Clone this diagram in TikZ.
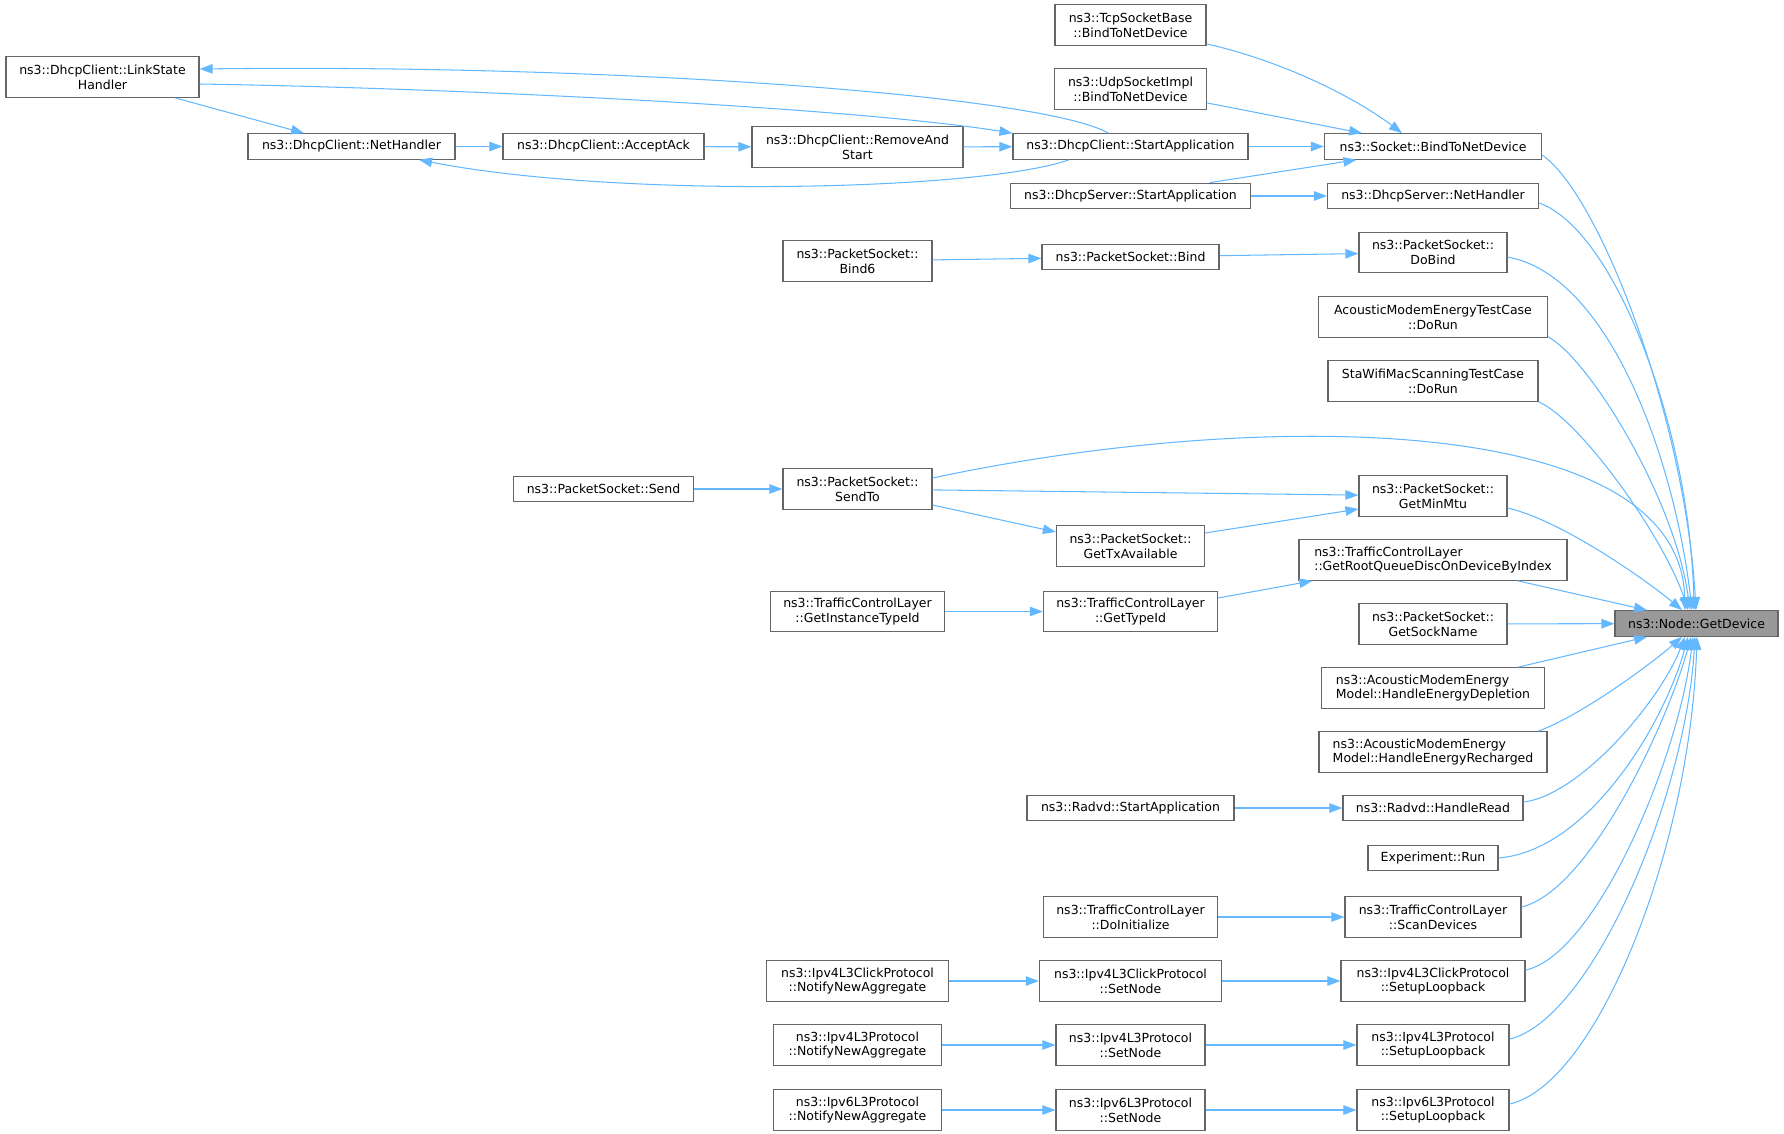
\documentclass[tikz,border=0pt]{standalone}
\usepackage{fontspec}
\setmainfont{DejaVu Sans}
\usetikzlibrary{arrows.meta}
\definecolor{edgeblue}{HTML}{63B8FF}
\definecolor{boxgray}{HTML}{666666}
\definecolor{curfill}{HTML}{999999}
\begin{document}
\begin{tikzpicture}[x=1pt,y=-1pt,
  fn/.style={draw=boxgray,line width=1.2pt,fill=white,align=center,
    inner xsep=2pt,inner ysep=0pt,minimum height=25.5pt,
    font=\fontsize{12.5}{14.7}\selectfont},
  fn2/.style={fn,minimum height=40.5pt},
  fncur/.style={fn,fill=curfill},
  call/.style={draw=edgeblue,line width=1.05pt,-{Triangle[length=13pt,width=9.5pt]}}]
\useasboundingbox (0,0) rectangle (1784,1133);
% the function itself
\node[fncur,minimum width=163pt] (gd) at (1696.5,623.5) {ns3::Node::GetDevice};
% direct callers
\node[fn,minimum width=217pt] (bindnd) at (1433,146.5) {ns3::Socket::BindToNetDevice};
\node[fn,minimum width=211pt] (dsnh) at (1433,196) {ns3::DhcpServer::NetHandler};
\node[fn2,minimum width=148pt] (dobind) at (1433,252.5) {ns3::PacketSocket::\\DoBind};
\node[fn2,minimum width=229pt] (amdorun) at (1433,317) {AcousticModemEnergyTestCase\\::DoRun};
\node[fn2,minimum width=210pt] (swdorun) at (1433,381) {StaWifiMacScanningTestCase\\::DoRun};
\node[fn2,minimum width=148pt] (minmtu) at (1433,496) {ns3::PacketSocket::\\GetMinMtu};
\node[fn2,align=left,minimum width=268pt] (getroot) at (1433,560) {ns3::TrafficControlLayer\\::GetRootQueueDiscOnDeviceByIndex};
\node[fn2,minimum width=148pt] (sockname) at (1433,624) {ns3::PacketSocket::\\GetSockName};
\node[fn2,align=left,minimum width=223pt] (depletion) at (1433,688) {ns3::AcousticModemEnergy\\Model::HandleEnergyDepletion};
\node[fn2,align=left,minimum width=228pt] (recharged) at (1433,752) {ns3::AcousticModemEnergy\\Model::HandleEnergyRecharged};
\node[fn,minimum width=180pt] (handleread) at (1433,808) {ns3::Radvd::HandleRead};
\node[fn,minimum width=130pt] (exprun) at (1433,858) {Experiment::Run};
\node[fn2,minimum width=176pt] (scandev) at (1433,917) {ns3::TrafficControlLayer\\::ScanDevices};
\node[fn2,minimum width=184pt] (clickloop) at (1433,981) {ns3::Ipv4L3ClickProtocol\\::SetupLoopback};
\node[fn2,minimum width=152pt] (ipv4loop) at (1433,1045) {ns3::Ipv4L3Protocol\\::SetupLoopback};
\node[fn2,minimum width=152pt] (ipv6loop) at (1433,1110) {ns3::Ipv6L3Protocol\\::SetupLoopback};
% second level
\node[fn2,minimum width=151pt] (tcpbind) at (1130.5,25) {ns3::TcpSocketBase\\::BindToNetDevice};
\node[fn2,minimum width=152.5pt] (udpbind) at (1130.5,89) {ns3::UdpSocketImpl\\::BindToNetDevice};
\node[fn,minimum width=235pt] (dcstart) at (1130.5,146.5) {ns3::DhcpClient::StartApplication};
\node[fn,minimum width=240pt] (dsstart) at (1130.5,196) {ns3::DhcpServer::StartApplication};
\node[fn,minimum width=177pt] (psbind) at (1130.5,257) {ns3::PacketSocket::Bind};
\node[fn2,minimum width=148pt] (txavail) at (1130.5,546) {ns3::PacketSocket::\\GetTxAvailable};
\node[fn2,minimum width=174pt] (gettypeid) at (1130.5,611.5) {ns3::TrafficControlLayer\\::GetTypeId};
\node[fn,minimum width=207pt] (radvdstart) at (1130.5,808) {ns3::Radvd::StartApplication};
\node[fn2,minimum width=174pt] (doinit) at (1130.5,917) {ns3::TrafficControlLayer\\::DoInitialize};
\node[fn2,minimum width=182pt] (clicksetnode) at (1130.5,981) {ns3::Ipv4L3ClickProtocol\\::SetNode};
\node[fn2,minimum width=149pt] (ipv4setnode) at (1130.5,1045) {ns3::Ipv4L3Protocol\\::SetNode};
\node[fn2,minimum width=149pt] (ipv6setnode) at (1130.5,1110) {ns3::Ipv6L3Protocol\\::SetNode};
% third level and beyond
\node[fn2,minimum width=211pt] (removestart) at (857.5,147) {ns3::DhcpClient::RemoveAnd\\Start};
\node[fn2,minimum width=149pt] (bind6) at (857.5,261) {ns3::PacketSocket::\\Bind6};
\node[fn2,minimum width=149pt] (sendto) at (857.5,489) {ns3::PacketSocket::\\SendTo};
\node[fn2,minimum width=174pt] (instid) at (857.5,611.5) {ns3::TrafficControlLayer\\::GetInstanceTypeId};
\node[fn2,minimum width=182pt] (clicknotify) at (857.5,981) {ns3::Ipv4L3ClickProtocol\\::NotifyNewAggregate};
\node[fn2,minimum width=168pt] (ipv4notify) at (857.5,1045) {ns3::Ipv4L3Protocol\\::NotifyNewAggregate};
\node[fn2,minimum width=168pt] (ipv6notify) at (857.5,1110) {ns3::Ipv6L3Protocol\\::NotifyNewAggregate};
\node[fn,minimum width=201pt] (acceptack) at (603.5,146.5) {ns3::DhcpClient::AcceptAck};
\node[fn,minimum width=180pt] (pssend) at (603.5,489) {ns3::PacketSocket::Send};
\node[fn,minimum width=207pt] (nethandler) at (351.5,146.5) {ns3::DhcpClient::NetHandler};
\node[fn2,minimum width=193pt] (linkstate) at (102.5,77) {ns3::DhcpClient::LinkState\\Handler};
% straight calls
\foreach \a/\b in {nethandler/acceptack,acceptack/removestart,removestart/dcstart,
  dcstart/bindnd,dsstart/dsnh,bind6/psbind,psbind/dobind,pssend/sendto,sendto/minmtu,
  instid/gettypeid,radvdstart/handleread,doinit/scandev,clicknotify/clicksetnode,
  clicksetnode/clickloop,ipv4notify/ipv4setnode,ipv4setnode/ipv4loop,
  ipv6notify/ipv6setnode,ipv6setnode/ipv6loop,sockname/gd}
  \draw[call] (\a) -- (\b);
% the dhcp client loops
\draw[call] ([xshift=72.5pt]linkstate.south) -- ([xshift=-47.5pt]nethandler.north);
\draw[call] ([yshift=-7pt]linkstate.east) .. controls +(251,4) and +(-163,-26) .. (dcstart.north west);
\draw[call] ([xshift=-22pt]dcstart.north) .. controls +(-68.5,-39) and +(401,-5) .. ([yshift=8pt]linkstate.east);
\draw[call] ([xshift=-61.5pt]dcstart.south) .. controls +(-89,31) and +(201,39) .. ([xshift=67.5pt]nethandler.south);
% into BindToNetDevice
\draw[call] ([yshift=2pt]tcpbind.south east) .. controls +(83,19) and +(-42,-32) .. ([xshift=-31pt]bindnd.north);
\draw[call] ([yshift=-14pt]udpbind.east) -- ([xshift=-71pt]bindnd.north);
\draw[call] ([xshift=-41.5pt]dsstart.north east) -- ([xshift=32.5pt]bindnd.south west);
% packet socket
\draw[call] ([yshift=-16pt]sendto.east) -- ([yshift=14pt]txavail.west);
\draw[call] ([yshift=13pt]txavail.east) -- ([yshift=-13pt]minmtu.west);
\draw[call] ([yshift=13.5pt]gettypeid.east) -- ([xshift=14pt]getroot.south west);
% into GetDevice from above
\draw[call] ([yshift=-8.5pt]bindnd.east) .. controls +(58,40) and +(-11,-191) .. ([xshift=-0.5pt]gd.north);
\draw[call] ([yshift=-7pt]dsnh.east) .. controls +(76,27) and +(-4,-181) .. ([xshift=-2.5pt]gd.north);
\draw[call] ([yshift=-4.5pt]dobind.east) .. controls +(100,18) and +(-18,-155) .. ([xshift=-4.5pt]gd.north);
\draw[call] ([yshift=1pt]amdorun.south east) .. controls +(42,23) and +(-15,-111) .. ([xshift=-6.5pt]gd.north);
\draw[call] (swdorun.south east) .. controls +(42,18) and +(-23,-71) .. ([xshift=-8.5pt]gd.north);
\draw[call] ([yshift=11pt]sendto.east) .. controls +(318,-68) and +(-5,-201) .. ([xshift=-11.5pt]gd.north);
\draw[call] ([yshift=-12pt]minmtu.east) .. controls +(53,12) and +(-37,-31) .. ([xshift=-14.5pt]gd.north);
\draw[call] ([xshift=85pt]getroot.south) -- ([xshift=-49.5pt]gd.north);
% into GetDevice from below
\draw[call] ([xshift=85pt]depletion.north) -- ([xshift=-49.5pt]gd.south);
\draw[call] ([xshift=105pt]recharged.north) .. controls +(42,-15) and +(-32,28) .. ([xshift=-14.5pt]gd.south);
\draw[call] ([yshift=6pt]handleread.east) .. controls +(57,-7) and +(-25,64) .. ([xshift=-11.5pt]gd.south);
\draw[call] (exprun.east) .. controls +(92,-8) and +(-23,84) .. ([xshift=-8.5pt]gd.south);
\draw[call] ([yshift=10pt]scandev.east) .. controls +(69,-17) and +(-23,84) .. ([xshift=-5.5pt]gd.south);
\draw[call] ([yshift=11pt]clickloop.east) .. controls +(70,-15) and +(-15,124) .. ([xshift=-3.5pt]gd.south);
\draw[call] ([yshift=6pt]ipv4loop.east) .. controls +(81,-19) and +(-10,164) .. ([xshift=-1.5pt]gd.south);
\draw[call] ([yshift=6pt]ipv6loop.east) .. controls +(86,-19) and +(-7,214) .. ([xshift=0.5pt]gd.south);
\end{tikzpicture}
\end{document}
